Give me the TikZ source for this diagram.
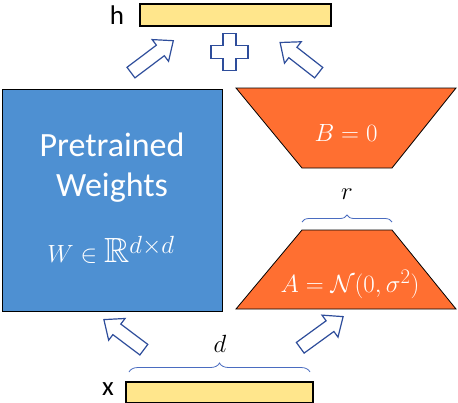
\documentclass[tikz,border=0pt]{standalone}
\usepackage{amssymb}
\usepackage{fontspec}
\setsansfont{Carlito}
\usetikzlibrary{shapes.arrows,decorations.pathreplacing}
\definecolor{wblue}{HTML}{4E90D2}
\definecolor{lorange}{HTML}{FF6F31}
\definecolor{barY}{HTML}{FFE68C}
\definecolor{arrowB}{HTML}{2E4D9B}
\definecolor{braceB}{HTML}{4A6CC0}
\begin{document}
\begin{tikzpicture}[x=1pt,y=-1pt,
  bar/.style={draw=black, line width=1.1pt, fill=barY},
  blockarrow/.style={single arrow, draw=arrowB, fill=white, line width=1.2pt,
    minimum height=#1, minimum width=26pt, single arrow head extend=7pt,
    inner sep=6pt, single arrow tip angle=80},
  trap/.style={fill=lorange, draw=black, line width=0.8pt},
  wtext/.style={text=white, font=\sffamily\fontsize{34}{40}\selectfont, inner sep=0pt},
  mtext/.style={text=white, font=\fontsize{28}{32}\selectfont, inner sep=0pt},
  lbl/.style={font=\sffamily\fontsize{27}{30}\selectfont, inner sep=0pt},
  dim/.style={font=\fontsize{25}{28}\selectfont, inner sep=0pt},
  brc/.style={draw=braceB, line width=0.8pt, decorate, decoration={brace, amplitude=#1}}
]
\useasboundingbox (0,0) rectangle (458,402);

% bars
\draw[bar] (140,4) rectangle (331,26);
\node[lbl] (hl) at (117,15) {h};
\draw[bar] (126,382) rectangle (313,403);
\node[lbl] (xl) at (108,389) {x};

% pretrained weights
\draw[fill=wblue, draw=black, line width=0.8pt] (2,89) rectangle (222,311);
\node[wtext] (t1) at (112,145) {Pretrained};
\node[wtext] (t2) at (112,188) {Weights};
\node[mtext, font=\fontsize{35}{40}\selectfont] (t3) at (111,250) {$W \in \mathbb{R}^{d\times d}$};

% trapezoids
\draw[trap] (236,88) -- (456,88) -- (392,168) -- (302,168) -- cycle;
\node[mtext, font=\fontsize{27}{32}\selectfont] (bl) at (346,133) {$B = 0$};
\draw[trap] (302,230) -- (392,230) -- (456,309) -- (236,309) -- cycle;
\node[mtext, font=\fontsize{28.5}{32}\selectfont] (al) at (350,284) {$A = \mathcal{N}(0,\sigma^2)$};

% braces
\coordinate (r1) at (302,222);
\coordinate (r2) at (392,222);
\draw[brc=7pt] (r1) -- (r2);
\node[dim] (rl) at (347,194) {$r$};
\coordinate (d1) at (129,372);
\coordinate (d2) at (310,372);
\draw[brc=9pt] (d1) -- (d2);
\node[dim] (dl) at (220,344) {$d$};

% block arrows
\node[blockarrow=53pt, rotate=37] (a1) at (149,59) {};
\node[blockarrow=49pt, rotate=142] (a2) at (302.5,60) {};
\node[blockarrow=50pt, rotate=143] (a3) at (127,337) {};
\node[blockarrow=53pt, rotate=36] (a4) at (318.5,334.5) {};

% plus
\draw[draw=arrowB, fill=white, line width=1.2pt]
  (223,33.5) -- (236,33.5) -- (236,45.5) -- (248,45.5) -- (248,58.5) -- (236,58.5)
  -- (236,70.5) -- (223,70.5) -- (223,58.5) -- (211,58.5) -- (211,45.5) -- (223,45.5) -- cycle;
\end{tikzpicture}
\end{document}
